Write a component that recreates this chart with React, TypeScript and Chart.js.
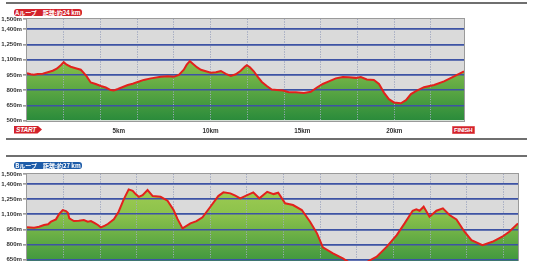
import React, { useEffect, useRef } from 'react';
import { Chart, registerables } from 'chart.js';

Chart.register(...registerables);

// ---------- data ----------
const ELEV_TICKS = [500, 650, 800, 950, 1100, 1250, 1400, 1500];
const KM_LABELS = [5, 10, 15, 20];

const A_TITLE = 'Aループ　距離:約24 km';
const A_LENGTH = 23.8;
const A_KM = [
  0, 0.2, 0.37, 0.58, 0.86, 1.13, 1.4, 1.62, 1.84, 2.0, 2.16, 2.38, 2.65, 2.93, 3.09, 3.25,
  3.47, 3.74, 4.02, 4.29, 4.56, 4.73, 4.95, 5.22, 5.49, 5.76, 6.03, 6.36, 6.74, 7.29, 7.67,
  7.99, 8.27, 8.54, 8.7, 8.87, 9.03, 9.25, 9.47, 9.74, 10.01, 10.29, 10.56, 10.83, 11.1,
  11.37, 11.64, 11.86, 11.97, 12.14, 12.35, 12.57, 12.79, 13.06, 13.33, 13.61, 13.94, 14.26,
  14.64, 15.08, 15.46, 15.79, 16.11, 16.44, 16.82, 17.2, 17.53, 17.91, 18.18, 18.51, 18.89,
  19.17, 19.44, 19.71, 19.98, 20.36, 20.64, 20.91, 21.18, 21.62, 22.17, 22.71, 23.26, 23.64, 23.8,
];
const A_ELEV = [
  965, 955, 950, 958, 960, 975, 990, 1010, 1045, 1075, 1050, 1030, 1015, 1000, 970, 935,
  875, 860, 840, 825, 800, 795, 810, 830, 850, 862, 880, 900, 915, 930, 935,
  930, 950, 1000, 1050, 1085, 1060, 1025, 1000, 985, 970, 975, 988, 960, 940,
  955, 990, 1030, 1045, 1025, 985, 930, 880, 840, 805, 800, 795, 778,
  778, 772, 783, 825, 860, 885, 915, 928, 925, 920, 928, 905, 900,
  860, 775, 710, 678, 670, 700, 760, 790, 828, 850, 885, 935, 970, 985,
];

const B_TITLE = 'Bループ　距離:約27 km';
const B_LENGTH = 26.8;
const B_KM = [
  0, 0.39, 0.66, 0.93, 1.15, 1.31, 1.58, 1.75, 1.95, 2.13, 2.23, 2.31, 2.56, 2.83, 3.1, 3.32,
  3.49, 3.7, 3.87, 4.03, 4.25, 4.41, 4.74, 5.0, 5.28, 5.55, 5.77, 5.93, 6.1, 6.31, 6.58,
  6.86, 7.29, 7.67, 8.0, 8.22, 8.49, 8.92, 9.25, 9.58, 10.01, 10.44, 10.72, 11.1, 11.37,
  11.64, 12.02, 12.35, 12.68, 13.11, 13.46, 13.71, 14.09, 14.52, 15.0, 15.45, 15.83, 16.15,
  16.7, 17.24, 17.62, 17.95, 18.27, 18.71, 19.09, 19.64, 20.18, 20.61, 21.05, 21.25, 21.43,
  21.65, 21.97, 22.35, 22.7, 23.06, 23.44, 23.88, 24.26, 24.86, 25.4, 25.94, 26.32, 26.8,
];
const B_ELEV = [
  969, 965, 975, 992, 1000, 1025, 1048, 1100, 1141, 1131, 1114, 1058, 1031, 1035, 1041, 1025,
  1031, 1010, 992, 969, 985, 1002, 1048, 1124, 1248, 1347, 1333, 1300, 1273, 1290, 1340,
  1280, 1273, 1234, 1141, 1050, 958, 1008, 1030, 1068, 1174, 1280, 1317, 1307, 1285,
  1258, 1290, 1317, 1258, 1323, 1300, 1313, 1208, 1191, 1141, 1025, 909, 770,
  710, 660, 615, 590, 590, 640, 676, 776, 892, 1008, 1134, 1148, 1134,
  1174, 1074, 1134, 1158, 1091, 1048, 925, 842, 792, 825, 875, 925, 1008,
];

// ---------- styling ----------
const RED = '#d3222b';
const BLUE_LABEL = '#1d5ca9';
const LINE_RED = '#e3211c';
const GRID_BLUE = '#3d53a4';
const SANS = '"Liberation Sans", Arial, sans-serif';

const gridOverFill = {
  id: 'gridOverFill',
  beforeDraw(chart: any) {
    const a = chart.chartArea;
    const ctx = chart.ctx;
    ctx.save();
    ctx.fillStyle = '#dadada';
    ctx.fillRect(a.left, a.top, a.right - a.left, a.bottom - a.top);
    ctx.restore();
  },
  afterDatasetDraw(chart: any, args: any) {
    if (args.index === 1) {
      chart.scales.x.drawGrid(chart.chartArea);
      chart.scales.y.drawGrid(chart.chartArea);
    }
  },
  afterDraw(chart: any) {
    const a = chart.chartArea;
    const ctx = chart.ctx;
    ctx.save();
    ctx.strokeStyle = '#9a9a9a';
    ctx.lineWidth = 1;
    ctx.strokeRect(Math.round(a.left) - 0.5, Math.round(a.top) - 0.5, Math.round(a.right - a.left) + 1, Math.round(a.bottom - a.top) + 1);
    ctx.restore();
  },
};

function makeConfig(km: number[], elev: number[], maxKm: number, padTop: number, padRight: number, xHeight: number, showX: boolean): any {
  const pts = km.map((k, i) => ({ x: k, y: elev[i] }));
  const xTicks: number[] = [];
  for (let k = 0; k <= Math.floor(maxKm); k++) xTicks.push(k);
  return {
    type: 'line',
    data: {
      datasets: [
        {
          data: pts,
          borderColor: LINE_RED,
          borderWidth: 2,
          pointRadius: 0,
          fill: false,
          tension: 0,
          order: 0,
        },
        {
          data: pts,
          borderWidth: 0,
          borderColor: 'rgba(0,0,0,0)',
          pointRadius: 0,
          tension: 0,
          fill: 'start',
          order: 1,
          backgroundColor: (c: any) => {
            const ch = c.chart;
            const a = ch.chartArea;
            if (!a) return '#7cb746';
            const g = ch.ctx.createLinearGradient(0, a.top, 0, a.bottom);
            g.addColorStop(0, '#a9d158');
            g.addColorStop(0.4, '#8cc24b');
            g.addColorStop(1, '#2a8b3b');
            return g;
          },
        },
      ],
    },
    options: {
      responsive: false,
      animation: false,
      devicePixelRatio: 1,
      layout: { padding: { top: padTop, right: padRight, left: 0, bottom: 0 } },
      plugins: { legend: { display: false }, tooltip: { enabled: false } },
      scales: {
        x: {
          type: 'linear',
          min: 0,
          max: maxKm,
          afterBuildTicks: (s: any) => {
            s.ticks = xTicks.map((v) => ({ value: v }));
          },
          afterFit: (s: any) => {
            s.height = xHeight;
          },
          ticks: {
            display: showX,
            autoSkip: false,
            maxRotation: 0,
            padding: 7,
            color: '#333',
            font: { family: SANS, size: 6.3, weight: 'bold' },
            callback: (v: any) => (KM_LABELS.includes(v) ? `${v}km` : ''),
          },
          grid: {
            drawTicks: false,
            lineWidth: 1,
            color: (c: any) => (c.tick && c.tick.value > 0 && c.tick.value % 2 === 0 ? '#a3aac2' : 'rgba(0,0,0,0)'),
          },
          border: { display: false, dash: [1, 1.5] },
        },
        y: {
          min: 500,
          max: 1500,
          afterBuildTicks: (s: any) => {
            s.ticks = ELEV_TICKS.map((v) => ({ value: v }));
          },
          afterFit: (s: any) => {
            s.width = 27;
          },
          ticks: {
            padding: 1,
            color: '#333',
            font: { family: SANS, size: 6.1, weight: 'bold' },
            callback: (v: any) => `${Number(v).toLocaleString('en-US')}m`,
          },
          grid: {
            tickLength: 4,
            tickColor: '#9a9a9a',
            lineWidth: 1.4,
            color: (c: any) => (c.tick && (c.tick.value === 500 || c.tick.value === 1500) ? 'rgba(0,0,0,0)' : GRID_BLUE),
          },
          border: { display: false },
        },
      },
    },
    plugins: [gridOverFill],
  };
}

function ProfileChart(props: { km: number[]; elev: number[]; maxKm: number; top: number; padTop: number; padRight: number; xHeight: number; showX: boolean }) {
  const ref = useRef<HTMLCanvasElement | null>(null);
  useEffect(() => {
    if (!ref.current) return;
    const chart = new Chart(ref.current, makeConfig(props.km, props.elev, props.maxKm, props.padTop, props.padRight, props.xHeight, props.showX));
    return () => chart.destroy();
  }, []);
  return (
    <canvas
      ref={ref}
      width={533}
      height={140}
      style={{ position: 'absolute', left: 0, top: props.top, width: 533, height: 140 }}
    />
  );
}

const rule = (top: number): React.CSSProperties => ({
  position: 'absolute',
  left: 6,
  top,
  width: 521,
  height: 2,
  background: '#6f6f6f',
});

const tag = (top: number, bg: string): React.CSSProperties => ({
  position: 'absolute',
  left: 14,
  top,
  width: 68,
  height: 7,
  borderRadius: 3,
  background: bg,
  color: '#fff',
  fontFamily: '"Noto Sans CJK JP", sans-serif',
  fontWeight: 700,
  fontSize: 6,
  lineHeight: '7px',
  textAlign: 'center',
  whiteSpace: 'nowrap',
  overflow: 'hidden',
});

export default function App() {
  return (
    <div style={{ position: 'fixed', left: 0, top: 0, width: 533, height: 261, overflow: 'hidden', background: '#fff' }}>
      <div style={rule(2)} />
      <div style={tag(8.5, RED)}>{A_TITLE}</div>
      <ProfileChart km={A_KM} elev={A_ELEV} maxKm={A_LENGTH} top={0} padTop={19} padRight={69} xHeight={19.5} showX={true} />
      <div
        style={{
          position: 'absolute', left: 14, top: 125.5, width: 28, height: 8, background: RED,
          clipPath: 'polygon(0 0, 84% 0, 100% 50%, 84% 100%, 0 100%)',
          color: '#fff', fontFamily: SANS, fontWeight: 700, fontSize: 6.5, lineHeight: '8px',
          paddingLeft: 2, boxSizing: 'border-box', fontStyle: 'italic', letterSpacing: -0.2,
        }}
      >
        START
      </div>
      <div
        style={{
          position: 'absolute', left: 451.5, top: 125.5, width: 23.5, height: 8, background: RED,
          color: '#fff', fontFamily: SANS, fontWeight: 700, fontSize: 6, lineHeight: '8px',
          textAlign: 'center', boxShadow: 'inset 0 0 0 0.6px #f08a8a', letterSpacing: -0.2,
        }}
      >
        FINISH
      </div>
      <div style={rule(138)} />
      <div style={rule(155)} />
      <div style={tag(162, BLUE_LABEL)}>{B_TITLE}</div>
      <ProfileChart km={B_KM} elev={B_ELEV} maxKm={B_LENGTH} top={140} padTop={34} padRight={15} xHeight={5.6} showX={false} />
    </div>
  );
}
